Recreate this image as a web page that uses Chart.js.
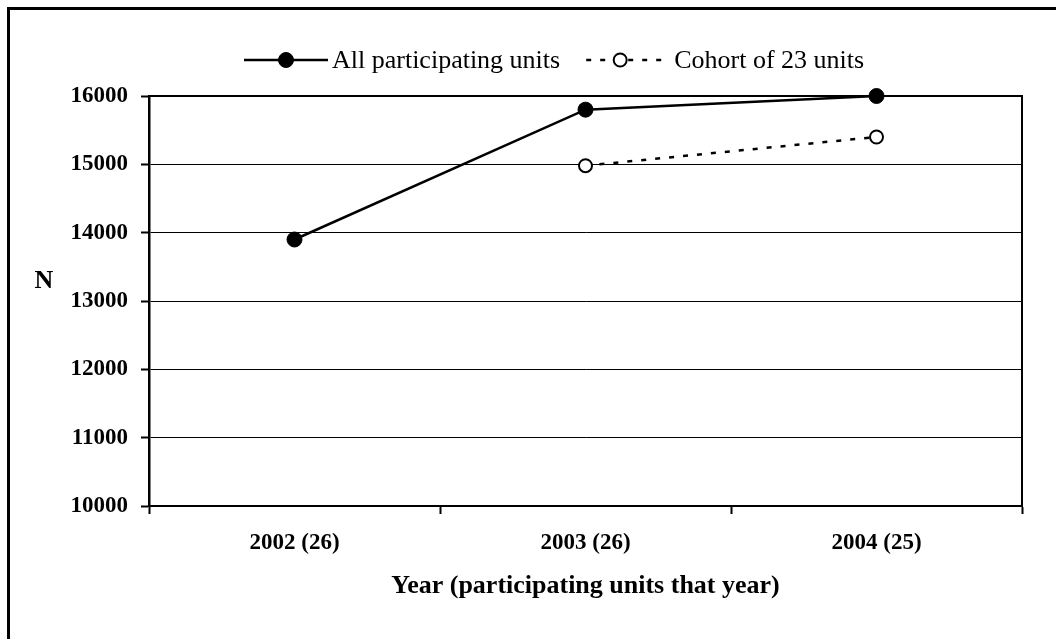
<!DOCTYPE html>
<html lang="en">
<head>
  <meta charset="UTF-8" />
  <title>Participants per year</title>
  <script src="https://cdn.jsdelivr.net/npm/chart.js"></script>
  <style>
    body {
      margin: 0;
      background: #fff;
      overflow: hidden;
    }
    .frame {
      position: absolute;
      left: 7px;
      top: 7px;
      width: 1070px;
      height: 660px;
      border: 3px solid #000;
    }
    #chart {
      position: absolute;
      left: 0;
      top: 0;
    }
  </style>
</head>
<body>
  <div class="frame"></div>
  <canvas id="chart" width="1056" height="639"></canvas>

  <script>
    // data
    const years = ['2002 (26)', '2003 (26)', '2004 (25)'];
    const allUnits = [13900, 15800, 16000];
    const cohortUnits = [null, 14980, 15400];
    const yTicks = [10000, 11000, 12000, 13000, 14000, 15000, 16000];

    const serif = '"Liberation Serif", "Times New Roman", serif';

    // frame around the plot, axis titles and the legend
    const extras = {
      id: 'extras',
      beforeDatasetsDraw(chart) {
        const { ctx, chartArea: a } = chart;
        ctx.save();
        ctx.strokeStyle = '#000';
        ctx.lineWidth = 2;
        ctx.strokeRect(a.left, a.top, a.right - a.left, a.bottom - a.top);
        ctx.restore();
      },
      afterDraw(chart) {
        const { ctx, chartArea: a } = chart;
        ctx.save();
        ctx.fillStyle = '#000';
        ctx.textBaseline = 'middle';
        ctx.textAlign = 'center';
        ctx.font = 'bold 26px ' + serif;
        ctx.fillText('N', 44, 281);
        ctx.fillText('Year (participating units that year)', (a.left + a.right) / 2, 586);

        // legend: line + marker + text, like the dataset
        ctx.font = '26px ' + serif;
        ctx.textAlign = 'left';
        let x = 244;
        const y = 60;
        chart.data.datasets.forEach((ds, i) => {
          const w = 84;
          const mx = i === 0 ? x + w / 2 : x + 34;
          ctx.strokeStyle = '#000';
          ctx.lineWidth = ds.borderWidth;
          ctx.setLineDash(ds.borderDash || []);
          ctx.beginPath();
          ctx.moveTo(x, y);
          ctx.lineTo(x + w, y);
          ctx.stroke();
          ctx.setLineDash([]);
          ctx.beginPath();
          ctx.arc(mx, y, ds.pointRadius, 0, Math.PI * 2);
          ctx.fillStyle = ds.pointBackgroundColor;
          ctx.fill();
          ctx.lineWidth = ds.pointBorderWidth;
          ctx.stroke();
          ctx.fillStyle = '#000';
          ctx.fillText(ds.label, x + w + 4, y + 1);
          x += w + 4 + ctx.measureText(ds.label).width + 26;
        });
        ctx.restore();
      }
    };

    new Chart(document.getElementById('chart'), {
      type: 'line',
      data: {
        labels: years,
        datasets: [{
          label: 'All participating units',
          data: allUnits,
          borderColor: '#000',
          borderWidth: 2.5,
          pointRadius: 7.5,
          pointBackgroundColor: '#000',
          pointBorderColor: '#000',
          pointBorderWidth: 1,
          tension: 0,
          clip: false
        }, {
          label: 'Cohort of 23 units',
          data: cohortUnits,
          borderColor: '#000',
          borderWidth: 2.5,
          borderDash: [5, 9],
          pointRadius: 6.5,
          pointBackgroundColor: '#fff',
          pointBorderColor: '#000',
          pointBorderWidth: 2,
          tension: 0,
          clip: false
        }]
      },
      options: {
        responsive: false,
        devicePixelRatio: 1,
        animation: false,
        layout: { padding: { top: 96, right: 34, left: 0, bottom: 0 } },
        plugins: {
          legend: { display: false },
          tooltip: { enabled: false }
        },
        scales: {
          x: {
            offset: true,
            afterFit: s => { s.height = 133; },
            grid: {
              offset: true,
              drawOnChartArea: false,
              color: '#000',
              tickLength: 8,
              tickWidth: 2
            },
            border: { color: '#000', width: 2 },
            ticks: {
              color: '#000',
              padding: 15,
              font: { family: serif, size: 23, weight: 'bold' }
            }
          },
          y: {
            min: 10000,
            max: 16000,
            afterFit: s => { s.width = 149; },
            afterBuildTicks: s => { s.ticks = yTicks.map(v => ({ value: v })); },
            grid: {
              color: '#000',
              lineWidth: 1,
              tickLength: 8,
              tickWidth: 2
            },
            border: { color: '#000', width: 2.5 },
            ticks: {
              color: '#000',
              padding: 13,
              callback: v => String(v),
              font: { family: serif, size: 23, weight: 'bold' }
            }
          }
        }
      },
      plugins: [extras]
    });
  </script>
</body>
</html>
